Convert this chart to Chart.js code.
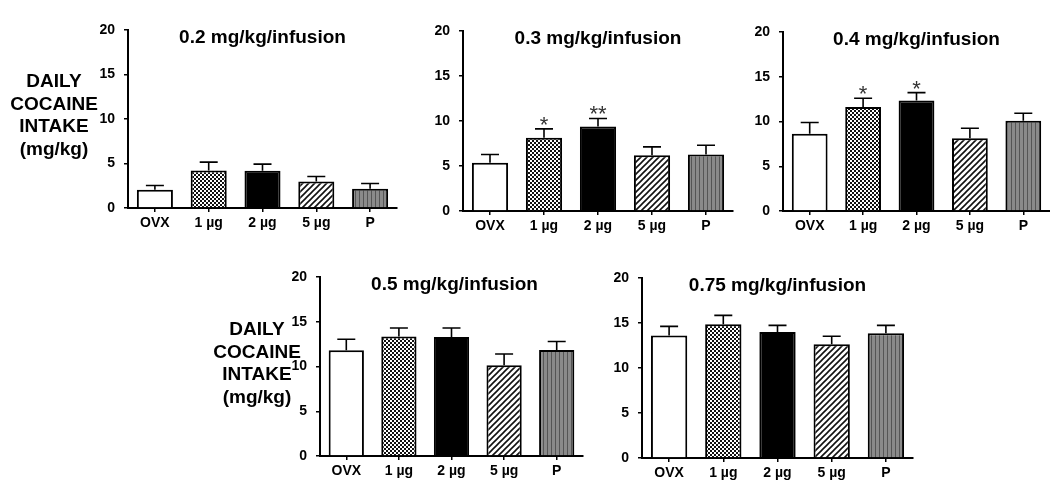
<!DOCTYPE html>
<html>
<head>
<meta charset="utf-8">
<script src="https://cdn.jsdelivr.net/npm/chart.js@4.4.1/dist/chart.umd.min.js"></script>
<style>
html,body{margin:0;padding:0;background:#fff;overflow:hidden;width:1050px;height:498px;}
canvas{position:absolute;left:0;top:0;}
</style>
</head>
<body>
<canvas id="c1" width="1050" height="498"></canvas>
<canvas id="c2" width="1050" height="498"></canvas>
<canvas id="c3" width="1050" height="498"></canvas>
<canvas id="c4" width="1050" height="498"></canvas>
<canvas id="c5" width="1050" height="498"></canvas>
<script>
// ---- data ----
const categories = ['OVX', '1 µg', '2 µg', '5 µg', 'P'];
const yTicks = [0, 5, 10, 15, 20];
const titles = ['0.2 mg/kg/infusion', '0.3 mg/kg/infusion', '0.4 mg/kg/infusion', '0.5 mg/kg/infusion', '0.75 mg/kg/infusion'];
const yLabelLines = ['DAILY', 'COCAINE', 'INTAKE', '(mg/kg)'];

const mean02 = [2.05, 4.22, 4.18, 2.98, 2.17];
const sem02  = [0.48, 0.94, 0.75, 0.56, 0.59];
const mean03 = [5.35, 8.13, 9.39, 6.20, 6.27];
const sem03  = [0.93, 1.00, 0.89, 0.93, 1.03];
const mean04 = [8.62, 11.63, 12.34, 8.14, 10.07];
const sem04  = [1.27, 0.97, 0.89, 1.11, 0.85];
const mean05 = [11.82, 13.34, 13.30, 10.14, 11.85];
const sem05  = [1.22, 0.96, 1.00, 1.26, 0.94];
const mean075 = [13.62, 14.85, 14.00, 12.63, 13.85];
const sem075  = [1.01, 1.00, 0.74, 0.89, 0.89];
const sig02 = ['', '', '', '', ''];
const sig03 = ['', '*', '**', '', ''];
const sig04 = ['', '*', '*', '', ''];
const sig05 = ['', '', '', '', ''];
const sig075 = ['', '', '', '', ''];

// ---- patterns ----
const FONT = '"Liberation Sans", Arial, sans-serif';
function makePattern(w, h, draw) {
  const c = document.createElement('canvas');
  c.width = w; c.height = h;
  const x = c.getContext('2d');
  draw(x, w, h);
  return x.createPattern(c, 'repeat');
}
const checker = makePattern(4, 4, (x) => {
  x.fillStyle = '#fff'; x.fillRect(0, 0, 4, 4);
  x.fillStyle = '#111'; x.fillRect(0, 0, 2, 2); x.fillRect(2, 2, 2, 2);
});
const hatch = makePattern(6, 6, (x) => {
  x.fillStyle = '#fff'; x.fillRect(0, 0, 6, 6);
  x.strokeStyle = '#111'; x.lineWidth = 1.6;
  x.beginPath();
  x.moveTo(-1, 7); x.lineTo(7, -1);
  x.moveTo(-4, 4); x.lineTo(4, -4);
  x.moveTo(2, 10); x.lineTo(10, 2);
  x.stroke();
});
const stripes = makePattern(4, 4, (x) => {
  x.fillStyle = '#8a8a8a'; x.fillRect(0, 0, 4, 4);
  x.fillStyle = '#555'; x.fillRect(3, 0, 1, 4);
});
const fills = ['#ffffff', checker, '#000000', hatch, stripes];

// ---- plugins ----
const overlay = {
  id: 'overlay',
  afterDatasetsDraw(chart, args, opts) {
    const ctx = chart.ctx;
    const ys = chart.scales.y;
    const meta = chart.getDatasetMeta(0);
    const means = chart.data.datasets[0].data;
    ctx.save();
    ctx.strokeStyle = '#000';
    ctx.lineWidth = 1.6;
    meta.data.forEach((bar, i) => {
      const yTop = ys.getPixelForValue(means[i]);
      const yErr = ys.getPixelForValue(means[i] + opts.sem[i]);
      ctx.beginPath();
      ctx.moveTo(bar.x, yTop);
      ctx.lineTo(bar.x, yErr);
      ctx.moveTo(bar.x - 9, yErr);
      ctx.lineTo(bar.x + 9, yErr);
      ctx.stroke();
      if (opts.sig[i]) {
        ctx.fillStyle = '#333';
        ctx.font = '22px ' + FONT;
        ctx.textAlign = 'center';
        ctx.textBaseline = 'alphabetic';
        ctx.fillText(opts.sig[i], bar.x, yErr + 3);
      }
    });
    ctx.restore();
  },
  afterDraw(chart, args, opts) {
    const ctx = chart.ctx;
    const a = chart.chartArea;
    ctx.save();
    ctx.fillStyle = '#000';
    ctx.font = 'bold 19px ' + FONT;
    ctx.textAlign = 'center';
    ctx.textBaseline = 'middle';
    ctx.fillText(opts.title, (a.left + a.right) / 2 + opts.titleDx, a.top + 8);
    if (opts.yLabel) {
      opts.yLabel.lines.forEach((t, k) => {
        ctx.fillText(t, opts.yLabel.x, opts.yLabel.y + k * 22.5);
      });
    }
    ctx.restore();
  }
};

function makeChart(id, means, sem, sig, title, box, yLabel, titleDx) {
  // box: chart area edges in page pixels
  const yW = 40, xH = 30;
  return new Chart(document.getElementById(id), {
    type: 'bar',
    data: {
      labels: categories,
      datasets: [{
        data: means,
        backgroundColor: fills,
        borderColor: '#000',
        borderWidth: 2,
        barPercentage: 0.67,
        categoryPercentage: 1.0
      }]
    },
    options: {
      responsive: false,
      animation: false,
      devicePixelRatio: 1,
      layout: { padding: { left: box.left - yW, right: 1050 - box.right, top: box.top, bottom: 498 - box.bottom - xH } },
      plugins: {
        legend: { display: false },
        tooltip: { enabled: false },
        title: { display: false },
        overlay: { sem: sem, sig: sig, title: title, yLabel: yLabel, titleDx: titleDx || 0 }
      },
      scales: {
        x: {
          offset: true,
          afterFit(s) { s.height = xH; },
          grid: { display: true, drawOnChartArea: false, drawTicks: true, tickLength: 4, color: '#000', lineWidth: 1.5, offset: false },
          border: { display: true, color: '#000', width: 2 },
          ticks: { color: '#000', font: { family: FONT, size: 14, weight: 'bold' }, padding: 3, maxRotation: 0 }
        },
        y: {
          min: 0, max: 20,
          afterFit(s) { s.width = yW; },
          afterBuildTicks(s) { s.ticks = yTicks.map(v => ({ value: v })); },
          grid: { display: true, drawOnChartArea: false, drawTicks: true, tickLength: 4, color: '#000', lineWidth: 1.5 },
          border: { display: true, color: '#000', width: 2 },
          ticks: { color: '#000', font: { family: FONT, size: 14, weight: 'bold' }, padding: 9 }
        }
      }
    },
    plugins: [overlay]
  });
}

makeChart('c1', mean02, sem02, sig02, titles[0], { left: 128, right: 397, top: 30, bottom: 208 },
  { lines: yLabelLines, x: 54, y: 82 });
makeChart('c2', mean03, sem03, sig03, titles[1], { left: 463, right: 733, top: 31, bottom: 211 }, null);
makeChart('c3', mean04, sem04, sig04, titles[2], { left: 783, right: 1050, top: 32, bottom: 211 }, null);
makeChart('c4', mean05, sem05, sig05, titles[3], { left: 320, right: 583, top: 277, bottom: 456 },
  { lines: yLabelLines, x: 257, y: 330 }, 3);
makeChart('c5', mean075, sem075, sig075, titles[4], { left: 642, right: 913, top: 278, bottom: 458 }, null);
</script>
</body>
</html>
